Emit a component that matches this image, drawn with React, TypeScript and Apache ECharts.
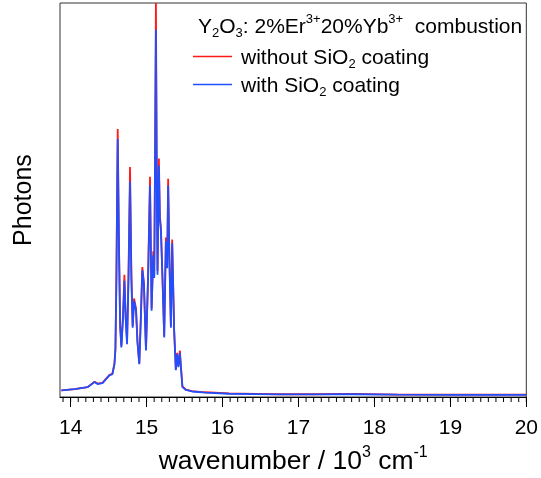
import React, { useEffect, useRef } from "react";
import * as echarts from "echarts";

// wavenumber (10^3 cm^-1)
const wavenumber = [
  13.878, 14.052, 14.223, 14.315, 14.354, 14.419, 14.511, 14.55, 14.577, 14.59,
  14.603, 14.612, 14.62, 14.635, 14.652, 14.668, 14.69, 14.708, 14.725, 14.743,
  14.762, 14.782, 14.8, 14.817, 14.835, 14.861, 14.88, 14.904, 14.925, 14.944,
  14.965, 14.992, 15.02, 15.045, 15.066, 15.088, 15.101, 15.112, 15.123, 15.134,
  15.144, 15.162, 15.175, 15.189, 15.21, 15.232, 15.254, 15.271, 15.284, 15.3,
  15.32, 15.337, 15.363, 15.385, 15.402, 15.419, 15.438, 15.455, 15.472, 15.516,
  15.599, 15.778, 16.084, 16.739, 17.2, 17.7, 18.3, 19.0, 19.6, 20.0,
];
// Photons, without SiO2 coating (normalised)
const withoutCoating = [
  0.017, 0.02, 0.025, 0.039, 0.034, 0.036, 0.056, 0.059, 0.085, 0.125,
  0.31, 0.52, 0.68, 0.41, 0.18, 0.13, 0.21, 0.31, 0.2, 0.14,
  0.31, 0.584, 0.31, 0.18, 0.25, 0.225, 0.14, 0.085, 0.21, 0.33,
  0.29, 0.12, 0.31, 0.559, 0.225, 0.37, 0.31, 0.63, 1.0, 0.58,
  0.32, 0.605, 0.46, 0.43, 0.3, 0.155, 0.405, 0.335, 0.554, 0.36,
  0.18, 0.4, 0.17, 0.07, 0.112, 0.078, 0.118, 0.07, 0.027, 0.019,
  0.015, 0.012, 0.009, 0.007, 0.007, 0.008, 0.006, 0.006, 0.006, 0.006,
];
// Photons, with SiO2 coating (normalised)
const withCoating = [
  0.017, 0.02, 0.025, 0.038, 0.033, 0.035, 0.055, 0.058, 0.083, 0.12,
  0.3, 0.5, 0.655, 0.4, 0.18, 0.126, 0.2, 0.295, 0.2, 0.134,
  0.3, 0.547, 0.3, 0.176, 0.244, 0.219, 0.14, 0.083, 0.2, 0.322,
  0.285, 0.118, 0.3, 0.537, 0.219, 0.36, 0.302, 0.6, 0.932, 0.55,
  0.31, 0.587, 0.45, 0.421, 0.295, 0.151, 0.395, 0.327, 0.537, 0.35,
  0.176, 0.39, 0.169, 0.068, 0.108, 0.076, 0.113, 0.068, 0.025, 0.018,
  0.014, 0.011, 0.0083, 0.0068, 0.0065, 0.007, 0.006, 0.0055, 0.0055, 0.0055,
];
const majorTicks = [14, 15, 16, 17, 18, 19, 20];
const minorTicks = Array.from({ length: 62 }, (_, i) => +(13.9 + i * 0.1).toFixed(1));

const FONT = "'Liberation Sans', Arial, sans-serif";

export default function App() {
  const ref = useRef<HTMLDivElement>(null);
  useEffect(() => {
    if (!ref.current) return;
    const chart = echarts.init(ref.current, undefined, { renderer: "svg" });
    const pts = (arr: number[]) => wavenumber.map((w, i) => [w, arr[i]]);
    const rich = {
      n: { fontSize: 21, fontFamily: FONT, color: "#000", fontWeight: "normal" },
      sub: { fontSize: 13, fontFamily: FONT, color: "#000", fontWeight: "normal", padding: [14, 0, 0, 0] },
      sup: { fontSize: 13, fontFamily: FONT, color: "#000", fontWeight: "normal", padding: [0, 0, 14, 0] },
    };
    chart.setOption({
      animation: false,
      textStyle: { fontFamily: FONT },
      title: {
        text: "{n|Y}{sub|2}{n|O}{sub|3}{n|: 2%Er}{sup|3+}{n|20%Yb}{sup|3+}{n|  combustion}",
        left: 198,
        top: 12,
        padding: 0,
        textStyle: { rich, fontWeight: "normal" },
      },
      legend: {
        orient: "vertical",
        left: 193,
        top: 46,
        padding: 0,
        itemGap: 4,
        icon: "rect",
        itemWidth: 39,
        itemHeight: 1.5,
        data: ["without", "with"],
        formatter: (name: string) =>
          name === "without"
            ? "{n|without SiO}{sub|2}{n| coating}"
            : "{n|with SiO}{sub|2}{n| coating}",
        textStyle: { rich, padding: [0, 0, 0, 4] },
      },
      grid: {
        left: 60,
        right: 11,
        top: 3,
        bottom: 78,
        show: true,
        borderColor: "#333",
        borderWidth: 1,
      },
      xAxis: {
        type: "value",
        min: 13.86,
        max: 20,
        position: "bottom",
        axisLine: { show: true, lineStyle: { color: "#000", width: 1.2 } },
        axisTick: { show: true, inside: false, length: 10, customValues: majorTicks, lineStyle: { color: "#000" } },
        axisLabel: { show: true, customValues: majorTicks, fontSize: 21, color: "#000", margin: 19, fontFamily: FONT },
        splitLine: { show: false },
        name: "{a|wavenumber / 10}{s|3}{a| cm}{s|-1}",
        nameLocation: "middle",
        nameGap: 46,
        nameTextStyle: {
          rich: {
            a: { fontSize: 26.5, fontFamily: FONT, color: "#000" },
            s: { fontSize: 16, fontFamily: FONT, color: "#000", padding: [0, 0, 17, 0] },
          },
        },
      },
      yAxis: {
        type: "value",
        min: 0,
        max: 1,
        axisLine: { show: false },
        axisTick: { show: false },
        axisLabel: { show: false },
        splitLine: { show: false },
        name: "Photons",
        nameLocation: "middle",
        nameGap: 26,
        nameTextStyle: { fontSize: 25, color: "#000", fontFamily: FONT },
      },
      series: [
        {
          name: "minorTicks",
          type: "custom",
          silent: true,
          clip: false,
          data: minorTicks.map((v) => [v, 0]),
          encode: { x: 0, y: 1 },
          renderItem: (_params: any, api: any) => {
            const p = api.coord([api.value(0), 0]);
            return {
              type: "line",
              shape: { x1: p[0], y1: p[1], x2: p[0], y2: p[1] + 5 },
              style: { stroke: "#000", lineWidth: 1 },
            };
          },
        },
        {
          name: "without",
          type: "line",
          data: pts(withoutCoating),
          showSymbol: false,
          symbol: "none",
          color: "#ff1a1a",
          lineStyle: { width: 1.8, color: "#ff1a1a" },
        },
        {
          name: "with",
          type: "line",
          data: pts(withCoating),
          showSymbol: false,
          symbol: "none",
          color: "#1f4fff",
          lineStyle: { width: 1.8, color: "#1f4fff" },
        },
      ],
    });
    return () => chart.dispose();
  }, []);
  return (
    <div
      ref={ref}
      style={{ position: "fixed", left: 0, top: 0, width: 541, height: 478 }}
    />
  );
}
